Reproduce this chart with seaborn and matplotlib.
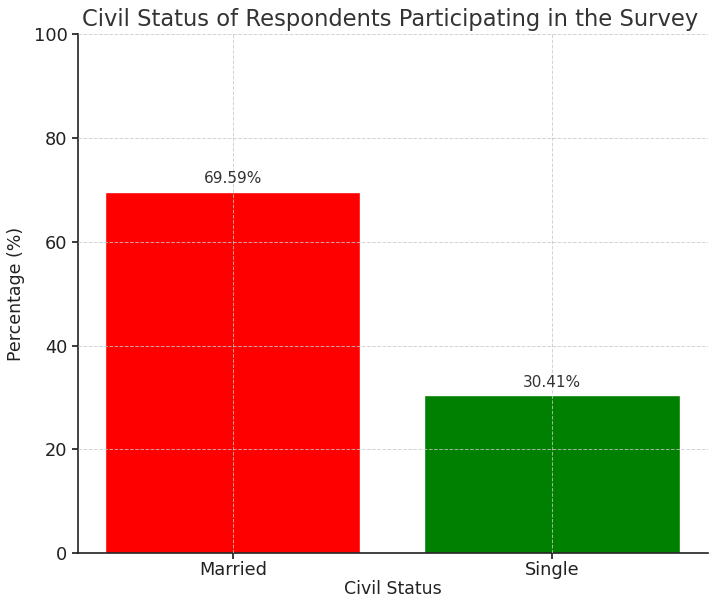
import matplotlib
matplotlib.use("Agg")
import matplotlib.pyplot as plt
import seaborn as sns
import pandas as pd

categories = ["Married", "Single"]
percentages = [69.59, 30.41]
bar_colors = ["#ff0000", "#008000"]

sns.set_theme(style="ticks")
plt.rcParams["font.family"] = ["DejaVu Sans"]

df = pd.DataFrame({"Civil Status": categories, "Percentage": percentages})

fig = plt.figure(figsize=(7.09, 6.0), dpi=100)
ax = fig.add_axes([0.110, 0.078, 0.889, 0.865])

sns.barplot(data=df, x="Civil Status", y="Percentage", hue="Civil Status",
            palette=dict(zip(categories, bar_colors)), width=0.8,
            saturation=1, legend=False, ax=ax)

ax.set_ylim(0, 100)
ax.set_xlim(-0.485, 1.49)
ax.set_axisbelow(False)
ax.grid(True, linestyle="--", linewidth=0.7, color="#c8c8c8", alpha=0.8)

for container in ax.containers:
    ax.bar_label(container, labels=[f"{v:.2f}%" for v in container.datavalues],
                 padding=4, fontsize=11, color="#333333")

ax.set_title("Civil Status of Respondents Participating in the Survey",
             fontsize=16.3, color="#333333", pad=6, x=0.495)
ax.set_xlabel("Civil Status", fontsize=12.5, color="#222222", labelpad=1)
ax.set_ylabel("Percentage (%)", fontsize=12.5, color="#222222", labelpad=6)
ax.tick_params(axis="both", labelsize=12.8, colors="#222222", length=4)
ax.tick_params(axis="x", pad=1.5)
for side in ("top", "right"):
    ax.spines[side].set_visible(False)
for side in ("left", "bottom"):
    ax.spines[side].set_color("#222222")
    ax.spines[side].set_linewidth(1.2)

fig.savefig("out.png", dpi=100)
